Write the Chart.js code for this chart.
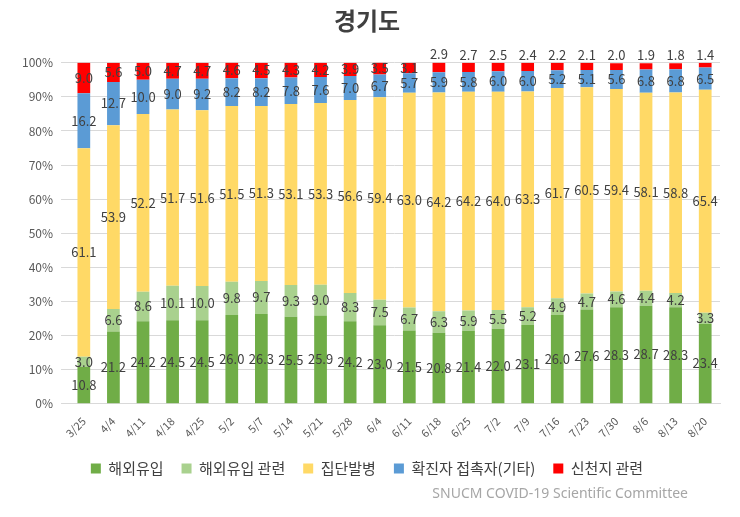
<!DOCTYPE html>
<html>
<head>
<meta charset="utf-8">
<script src="https://cdn.jsdelivr.net/npm/chart.js@4"></script>
<style>
  html, body { margin: 0; padding: 0; background: #fff; }
  #wrap { width: 740px; height: 517px; position: relative; }
</style>
</head>
<body>
<div id="wrap"><canvas id="chart"></canvas></div>
<script>
const dates = ['3/25', '4/4', '4/11', '4/18', '4/25', '5/2', '5/7', '5/14', '5/21', '5/28', '6/4',
  '6/11', '6/18', '6/25', '7/2', '7/9', '7/16', '7/23', '7/30', '8/6', '8/13', '8/20'];
const overseas = [10.8, 21.2, 24.2, 24.5, 24.5, 26.0, 26.3, 25.5, 25.9, 24.2, 23.0, 21.5, 20.8, 21.4, 22.0, 23.1, 26.0, 27.6, 28.3, 28.7, 28.3, 23.4];
const overseasRelated = [3.0, 6.6, 8.6, 10.1, 10.0, 9.8, 9.7, 9.3, 9.0, 8.3, 7.5, 6.7, 6.3, 5.9, 5.5, 5.2, 4.9, 4.7, 4.6, 4.4, 4.2, 3.3];
const cluster = [61.1, 53.9, 52.2, 51.7, 51.6, 51.5, 51.3, 53.1, 53.3, 56.6, 59.4, 63.0, 64.2, 64.2, 64.0, 63.3, 61.7, 60.5, 59.4, 58.1, 58.8, 65.4];
const contact = [16.2, 12.7, 10.0, 9.0, 9.2, 8.2, 8.2, 7.8, 7.6, 7.0, 6.7, 5.7, 5.9, 5.8, 6.0, 6.0, 5.2, 5.1, 5.6, 6.8, 6.8, 6.5];
const shincheonji = [9.0, 5.6, 5.0, 4.7, 4.7, 4.6, 4.5, 4.3, 4.2, 3.9, 3.5, 3.1, 2.9, 2.7, 2.5, 2.4, 2.2, 2.1, 2.0, 1.9, 1.8, 1.4];
const yTicks = [0, 10, 20, 30, 40, 50, 60, 70, 80, 90, 100];

const FONT = "'Noto Sans CJK KR', 'Noto Sans', sans-serif";

// value labels, centred on each segment; small red ones go above the bar
const valueLabels = {
  id: 'valueLabels',
  afterDatasetsDraw(chart) {
    const ctx = chart.ctx;
    ctx.save();
    ctx.font = '13px ' + FONT;
    ctx.fillStyle = '#404040';
    ctx.textAlign = 'center';
    ctx.textBaseline = 'middle';
    chart.data.datasets.forEach((ds, di) => {
      const meta = chart.getDatasetMeta(di);
      meta.data.forEach((bar, i) => {
        const v = ds.data[i];
        let y = (bar.y + bar.base) / 2;
        if (di === 4 && i >= 12) y = bar.y - 8;
        ctx.fillText(v.toFixed(1), bar.x, y);
      });
    });
    ctx.restore();
  }
};

// source note, bottom right
const sourceNote = {
  id: 'sourceNote',
  afterDraw(chart) {
    const ctx = chart.ctx;
    ctx.save();
    ctx.font = "14px 'Noto Sans', sans-serif";
    ctx.fillStyle = '#a6a6a6';
    ctx.textAlign = 'right';
    ctx.textBaseline = 'middle';
    ctx.fillText('SNUCM COVID-19 Scientific Committee', 688, 494);
    ctx.restore();
  }
};

const mk = (label, data, color) => ({
  label, data, backgroundColor: color, borderWidth: 0,
  barPercentage: 0.43, categoryPercentage: 1.0
});

new Chart(document.getElementById('chart'), {
  type: 'bar',
  data: {
    labels: dates,
    datasets: [
      mk('해외유입', overseas, '#70AD47'),
      mk('해외유입 관련', overseasRelated, '#A9D18E'),
      mk('집단발병', cluster, '#FFD966'),
      mk('확진자 접촉자(기타)', contact, '#5B9BD5'),
      mk('신천지 관련', shincheonji, '#FF0000')
    ]
  },
  options: {
    responsive: true,
    maintainAspectRatio: false,
    animation: false,
    layout: { padding: { left: 14, right: 20, top: 4, bottom: 31 } },
    plugins: {
      title: {
        display: true, text: '경기도', color: '#404040',
        font: { family: FONT, size: 24, weight: 'bold' },
        padding: { top: 2, bottom: 28 }
      },
      legend: {
        position: 'bottom',
        labels: {
          color: '#404040', boxWidth: 10, boxHeight: 10, padding: 18,
          font: { family: FONT, size: 15 }
        }
      },
      tooltip: { enabled: false }
    },
    scales: {
      x: {
        stacked: true,
        grid: { display: false },
        border: { color: '#d9d9d9' },
        ticks: {
          color: '#595959', font: { family: FONT, size: 11 },
          minRotation: 45, maxRotation: 45, autoSkip: false
        }
      },
      y: {
        stacked: true, min: 0, max: 100,
        afterBuildTicks: (axis) => { axis.ticks = yTicks.map(v => ({ value: v })); },
        grid: { color: '#d9d9d9' },
        border: { display: false },
        ticks: {
          color: '#595959', font: { family: FONT, size: 12 }, padding: 8,
          callback: (v) => v + '%'
        }
      }
    }
  },
  plugins: [valueLabels, sourceNote]
});
</script>
</body>
</html>
